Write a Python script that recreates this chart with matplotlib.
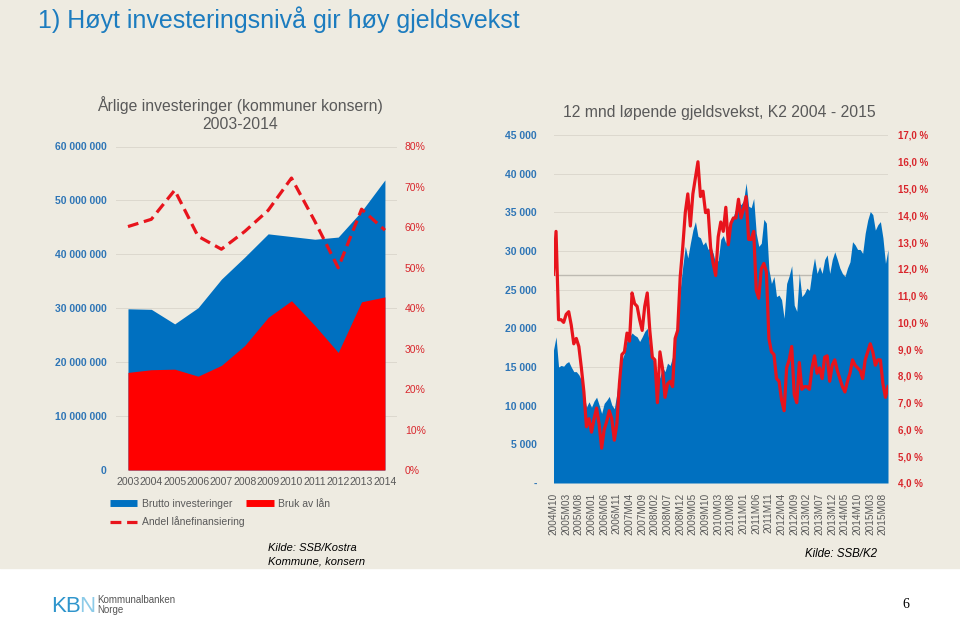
import matplotlib
matplotlib.use("Agg")
import matplotlib.pyplot as plt
from matplotlib import font_manager
from matplotlib.lines import Line2D
from matplotlib.patches import Rectangle

# ===============================
# Data
# ===============================

# Venstre figur: årlige investeringer (kommuner konsern)
years = [2003, 2004, 2005, 2006, 2007, 2008, 2009, 2010, 2011, 2012, 2013, 2014]
brutto = [29_900_000, 29_800_000, 27_100_000, 30_100_000, 35_400_000, 39_500_000,
          43_800_000, 43_300_000, 42_800_000, 43_200_000, 48_000_000, 53_800_000]
bruk_av_lan = [18_100_000, 18_600_000, 18_700_000, 17_400_000, 19_400_000, 23_100_000,
               28_300_000, 31_400_000, 26_800_000, 21_800_000, 31_200_000, 32_100_000]
andel = [60.2, 62.0, 69.2, 57.8, 54.6, 59.0, 64.2, 72.2, 61.5, 50.0, 64.5, 59.3]

# Høyre figur: 12 mnd løpende gjeldsvekst, månedlig fra 2004M10
gjeldsvekst_mill = [
    17200, 18900, 15000, 15200, 15100, 15500, 15700, 15000, 14400, 14400,
    14000, 13300, 11600, 9800, 10500, 9800, 10600, 11100, 10100, 9000,
    10300, 10700, 11200, 10100, 9600, 11600, 14600, 15900, 16800, 18500,
    18900, 19400, 19100, 18900, 18300, 18900, 19600, 20000, 17600, 16100,
    15500, 12900, 13700, 15000, 14400, 15500, 15200, 16300, 19100, 19800,
    25000, 28000, 30600, 29100, 31000, 32700, 33800, 31900, 31700, 30800,
    31200, 30200, 30600, 29700, 28400, 28800, 31500, 32000, 31000, 33000,
    34200, 34500, 35500, 36200, 36000, 36500, 38800, 35800, 35600, 36800,
    32300, 30600, 31000, 34100, 33600, 27600, 25800, 26700, 24100, 24300,
    23700, 21300, 25800, 26800, 28100, 23000, 22200, 27100, 24100, 24500,
    25200, 24900, 27300, 29100, 27100, 28000, 27100, 28900, 29500, 27100,
    28900, 29900, 28900, 27800, 27100, 26700, 27800, 28600, 31200, 30800,
    30200, 30200, 29700, 32300, 34000, 35100, 34700, 32700, 33400, 33800,
    31700, 28400, 30200,
]
vekst_pct = [
    11.8, 13.4, 10.1, 10.1, 10.0, 10.3, 10.4, 9.9, 9.2, 9.4,
    9.1, 8.3, 7.4, 6.1, 6.4, 5.9, 6.4, 6.8, 6.2, 5.3,
    6.0, 6.3, 6.7, 6.4, 5.6, 6.2, 7.7, 8.8, 8.9, 9.6,
    9.3, 11.1, 10.7, 10.6, 10.1, 9.7, 10.6, 11.1, 9.7, 8.7,
    8.6, 7.0, 8.9, 8.3, 7.2, 7.7, 7.8, 7.6, 9.4, 9.7,
    11.7, 12.8, 14.1, 14.8, 13.6, 14.8, 15.4, 16.0, 14.7, 14.9,
    14.1, 14.2, 12.8, 12.2, 11.75, 13.2, 13.75, 13.4, 14.3, 12.9,
    13.7, 13.9, 13.9, 14.6, 13.9, 14.25, 14.7, 13.1, 13.1, 13.4,
    11.2, 10.9, 12.0, 12.2, 11.9, 9.4, 8.9, 8.8, 7.9, 7.8,
    7.1, 6.7, 8.3, 8.6, 9.1, 7.3, 7.0, 8.5, 7.5, 7.6,
    7.6, 7.5, 8.3, 8.75, 8.1, 8.3, 7.9, 8.7, 8.75, 7.8,
    8.4, 8.6, 8.2, 7.9, 7.6, 7.4, 7.8, 8.1, 8.6, 8.4,
    8.3, 8.2, 7.9, 8.6, 8.9, 9.2, 8.9, 8.4, 8.6, 8.6,
    7.7, 7.2, 7.6,
]
months = []
y, m = 2004, 10
for _ in range(len(gjeldsvekst_mill)):
    months.append(f"{y}M{m:02d}")
    m += 1
    if m > 12:
        m, y = 1, y + 1
ref_level = 26900  # grå hjelpelinje

# ===============================
# Stil
# ===============================
names = {f.name for f in font_manager.fontManager.ttflist}
narrow = "Liberation Sans Narrow" in names
plt.rcParams["font.family"] = ["Liberation Sans", "DejaVu Sans"]

beige = "#EEEBE1"
blue = "#0070C0"
red = "#FF0000"
line_red = "#E8141C"
lbl_blue = "#2E75B6"
lbl_red = "#D9262C"
gray = "#595959"
grid_c = "#DCD8CE"

W, H = 960, 618
fig = plt.figure(figsize=(W / 100, H / 100), dpi=100)
fig.patch.set_facecolor("white")
fig.add_artist(Rectangle((0, 1 - 568 / H), 1, 568 / H, transform=fig.transFigure,
                         color=beige, zorder=-10))

def fx(px):
    return px / W

def fy(py):
    return 1 - py / H

# Tittel
if narrow:
    fig.text(fx(38), fy(27.5), "1) Høyt investeringsnivå gir høy gjeldsvekst",
             fontsize=21.5, color="#1C7CBF", family="Liberation Sans Narrow", va="baseline")
else:
    fig.text(fx(38), fy(28), "1) Høyt investeringsnivå gir høy gjeldsvekst",
             fontsize=18, color="#1C7CBF", va="baseline")

# ===============================
# Venstre figur
# ===============================
ax1 = fig.add_axes([fx(116.3), fy(470), fx(396.6) - fx(116.3), (470 - 146.5) / H])
ax1.set_facecolor("none")
ax1.fill_between(years, 0, brutto, color=blue, lw=0, zorder=2)
ax1.fill_between(years, 0, bruk_av_lan, color=red, lw=0, zorder=3)
ax1.set_xlim(2002.5, 2014.5)
ax1.set_ylim(0, 60_000_000)
yt = list(range(0, 60_000_001, 10_000_000))
ax1.set_yticks(yt)
ax1.set_yticklabels([f"{v:,}".replace(",", " ") for v in yt], color=lbl_blue,
                    fontweight="bold", fontsize=7.5)
ax1.set_xticks(years)
ax1.set_xticklabels([str(v) for v in years], color=gray, fontsize=7.6)
ax1.grid(axis="y", color=grid_c, lw=0.7)
ax1.set_axisbelow(True)
ax1.tick_params(length=0)
ax1.tick_params(axis="y", pad=7)
ax1.tick_params(axis="x", pad=5)

ax2 = ax1.twinx()
ax2.plot(years, andel, color=line_red, lw=2.3, linestyle=(0, (3.4, 1.8)), zorder=4)
ax2.set_ylim(0, 80)
pt = list(range(0, 81, 10))
ax2.set_yticks(pt)
ax2.set_yticklabels([f"{v}%" for v in pt], color=lbl_red, fontsize=7.5)
ax2.tick_params(length=0, pad=6)
for a in (ax1, ax2):
    for s in a.spines.values():
        s.set_visible(False)

fig.text(fx(240), fy(105), "Årlige investeringer (kommuner konsern)", ha="center",
         va="center", fontsize=11.3, color=gray)
fig.text(fx(240), fy(124), "2003-2014", ha="center", va="center", fontsize=11.3, color=gray)

handles = [Line2D([], [], color=blue, lw=5, solid_capstyle="butt"),
           Line2D([], [], color=line_red, lw=2.3, linestyle=(0, (3.4, 1.8))),
           Line2D([], [], color=red, lw=5, solid_capstyle="butt")]
labels = ["Brutto investeringer", "Andel lånefinansiering", "Bruk av lån"]
fig.legend(handles, labels, loc="upper left", bbox_to_anchor=(fx(110), fy(499)),
           ncol=2, frameon=False, fontsize=7.5, handlelength=2.6, handletextpad=0.45,
           columnspacing=0.2, labelspacing=0.7, borderpad=0, borderaxespad=0,
           labelcolor=gray)

fig.text(fx(268), fy(548), "Kilde: SSB/Kostra", fontsize=8, style="italic", va="center")
fig.text(fx(268), fy(562), "Kommune, konsern", fontsize=8, style="italic", va="center")

# ===============================
# Høyre figur
# ===============================
n = len(gjeldsvekst_mill)
xs = list(range(n))
ax3 = fig.add_axes([fx(553.5), fy(483), fx(888) - fx(553.5), (483 - 135) / H])
ax3.set_facecolor("none")
ax3.axhline(ref_level, color="#BDBAB2", lw=1.0, zorder=1.5)
ax3.fill_between(xs, 0, gjeldsvekst_mill, color=blue, lw=0, zorder=2)
ax3.set_xlim(0, n - 1)
ax3.set_ylim(0, 45000)
gt = list(range(0, 45001, 5000))
ax3.set_yticks(gt)
ax3.set_yticklabels(["-" if v == 0 else f"{v:,}".replace(",", " ") for v in gt],
                    color=lbl_blue, fontweight="bold", fontsize=7.5)
ax3.set_xticks(xs[::5])
ax3.set_xticklabels(months[::5], rotation=90, color=gray, fontsize=7.2)
ax3.grid(axis="y", color=grid_c, lw=0.7)
ax3.set_axisbelow(True)
ax3.tick_params(length=0)
ax3.tick_params(axis="y", pad=12)
ax3.tick_params(axis="x", pad=7)

ax4 = ax3.twinx()
ax4.plot(xs, vekst_pct, color=line_red, lw=2.3, zorder=4, solid_joinstyle="round")
ax4.set_ylim(4, 17)
rt = list(range(4, 18))
ax4.set_yticks(rt)
ax4.set_yticklabels([f"{v:.1f} %".replace(".", ",") for v in rt], color=lbl_red,
                    fontweight="bold", fontsize=7)
ax4.tick_params(length=0, pad=7)
for a in (ax3, ax4):
    for s in a.spines.values():
        s.set_visible(False)

fig.text(fx(719), fy(113), "12 mnd løpende gjeldsvekst, K2 2004 - 2015", ha="center",
         va="center", fontsize=11.3, color=gray)
fig.text(fx(805), fy(554), "Kilde: SSB/K2", fontsize=8.3, style="italic", va="center")

# ===============================
# Bunntekst / logo
# ===============================
logo_family = "Liberation Sans Narrow" if narrow else "Liberation Sans"
logo_size = 19 if narrow else 16
fig.text(fx(51), fy(612), "KB", fontsize=logo_size, color="#2F95CC",
         family=logo_family, va="baseline")
fig.text(fx(79), fy(612), "N", fontsize=logo_size, color="#8CCBE8",
         family=logo_family, va="baseline")
fig.text(fx(97), fy(600), "Kommunalbanken", fontsize=7, color="#555555", va="center",
         family=logo_family)
fig.text(fx(97), fy(610), "Norge", fontsize=7, color="#555555", va="center",
         family=logo_family)
fig.text(fx(906), fy(605), "6", fontsize=10, family=["Liberation Serif", "DejaVu Serif"],
         va="center", ha="center")

fig.savefig("out.png", dpi=100)
